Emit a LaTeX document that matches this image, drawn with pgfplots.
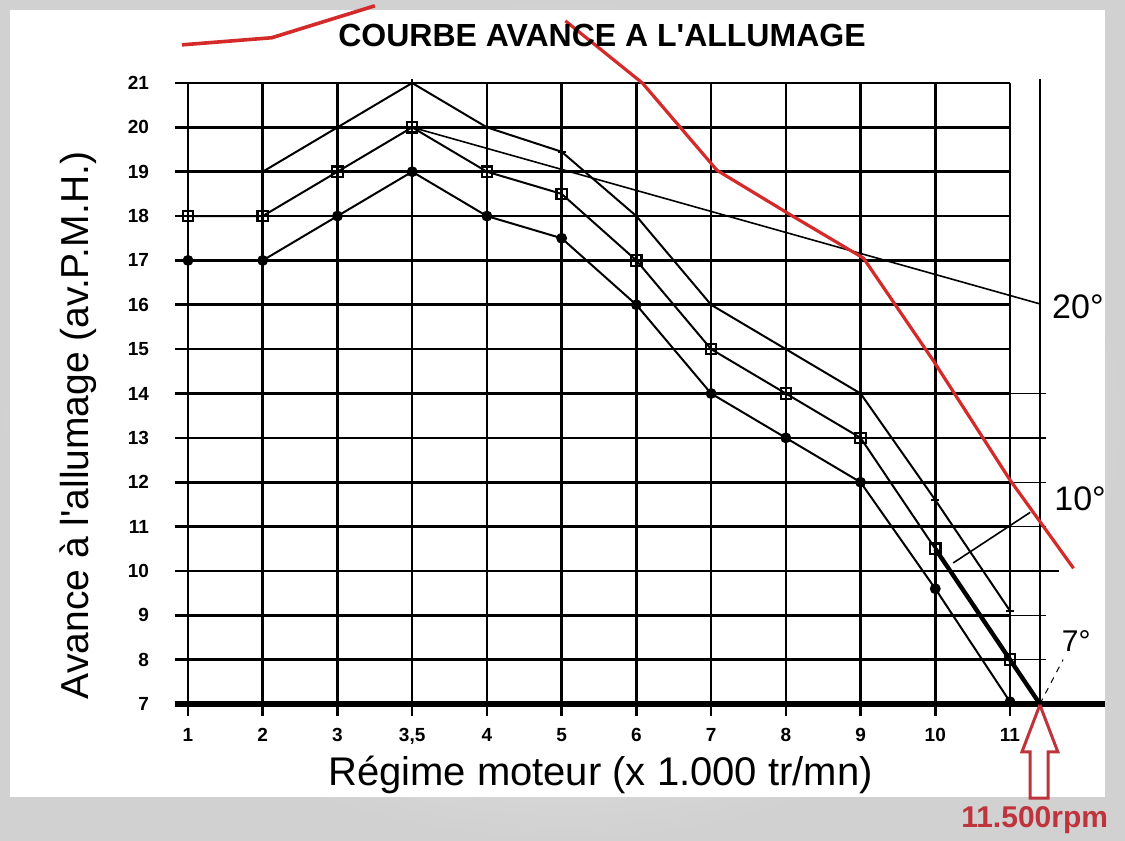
\documentclass[border=0pt]{standalone}
\usepackage{pgfplots}
\pgfplotsset{compat=1.18}
\usepackage{fontspec}
\setmainfont{Liberation Sans}[Ligatures=TeXOff]
\definecolor{annred}{HTML}{D42A2A}
\definecolor{rpmred}{HTML}{BE343C}
\begin{document}
\begin{tikzpicture}
\shade[inner color=gray!6, outer color=gray!36] (0,0) rectangle (562.5pt,420.5pt);
\fill[white] (5pt,22pt) rectangle (552.5pt,415.5pt);
\begin{axis}[
 at={(94pt,68.5pt)}, anchor=south west,
 scale only axis, width=411pt, height=310.5pt,
 xmin=0, xmax=11, ymin=7, ymax=21,
 clip=false,
 axis line style={draw=none},
 major tick length=0pt,
 xtick={0,...,11}, xticklabels={1,2,3,{3,5},4,5,6,7,8,9,10,11},
 ytick={7,...,21},
 grid=major, grid style={black, line width=1.3pt},
 tick label style={font=\fontsize{9.5}{11}\selectfont\bfseries},
 xticklabel style={yshift=-8.5pt},
 yticklabel style={xshift=-16pt},
 /pgf/number format/assume math mode=true,
]
% grid extensions
\pgfplotsinvokeforeach{8,...,21}{\draw[black, line width=1.3pt] (axis cs:-0.17,#1) -- (axis cs:0,#1);}
\pgfplotsinvokeforeach{0,...,11}{\draw[black, line width=1.3pt] (axis cs:#1,7) -- (axis cs:#1,6.72);}
\pgfplotsinvokeforeach{8,9,11,12,13,14}{\draw[black, line width=0.7pt] (axis cs:11,#1) -- (axis cs:11.48,#1);}
\draw[black, line width=0.7pt] (axis cs:11,10) -- (axis cs:11.65,10);
\draw[black, line width=0.8pt] (axis cs:11.4,7) -- (axis cs:11.4,21.1);
\draw[black, line width=2.6pt] (axis cs:-0.17,7) -- (axis cs:12.27,7);
% curves
\addplot[black, line width=1pt, mark=+, mark size=2pt] coordinates {(1,19)(3,21)(4,20)(5,19.45)(6,18)(7,16)(8,15)(9,14)(10,11.6)(11,9.1)};
\addplot[black, line width=1pt, mark=square, mark size=2.6pt, mark options={line width=1.1pt}] coordinates {(0,18)(1,18)(2,19)(3,20)(4,19)(5,18.5)(6,17)(7,15)(8,14)(9,13)(10,10.5)};
\addplot[black, line width=2.2pt, mark=square, mark size=2.6pt, mark options={line width=1pt}, mark indices={2}] coordinates {(10,10.5)(11,8)(11.4,7)};
\addplot[black, line width=1pt, mark=*, mark size=2.2pt] coordinates {(0,17)(1,17)(2,18)(3,19)(4,18)(5,17.5)(6,16)(7,14)(8,13)(9,12)(10,9.6)(11,7.05)};
% degree lines
\addplot[black, line width=0.8pt] coordinates {(3,20)(11.4,16.02)};
\addplot[black, line width=0.8pt] coordinates {(10.24,10.18)(11.27,11.32)};
\addplot[black, line width=0.5pt, dashed] coordinates {(11.4,7)(11.71,8)};
\node[anchor=west, font=\fontsize{17}{20}\selectfont] at (axis cs:11.47,15.96) {20°};
\node[anchor=west, font=\fontsize{17}{20}\selectfont] at (axis cs:11.5,11.62) {10°};
\node[anchor=west, font=\fontsize{15}{18}\selectfont] at (axis cs:11.6,8.42) {7°};
% red annotation lines
\addplot[annred, line width=1.6pt] coordinates {(5.05,22.4)(6.08,21.0)(7.08,19.03)(8.09,18.0)(9.04,17.05)(9.97,14.75)(11.0,12.05)(11.85,10.06)};
\addplot[annred, line width=1.8pt] coordinates {(-0.08,21.86)(1.12,22.02)(2.5,22.74)};
% arrow
\addplot[rpmred, line width=1.5pt] coordinates {(11.40,6.98)(11.64,5.92)(11.51,5.92)(11.51,4.88)(11.27,4.88)(11.27,5.92)(11.16,5.92)(11.40,6.98)};
\node[rpmred, font=\fontsize{15}{18}\selectfont\bfseries] at (axis cs:11.33,4.39) {11.500rpm};
% titles
\node[font=\fontsize{16}{19}\selectfont\bfseries] at (axis cs:5.54,22.07) {COURBE AVANCE A L'ALLUMAGE};
\node[font=\fontsize{20}{24}\selectfont] at (axis cs:5.52,5.40) {Régime moteur (x 1.000 tr/mn)};
\node[font=\fontsize{19.5}{23}\selectfont, rotate=90] at (axis cs:-1.47,13.28) {Avance à l'allumage (av.P.M.H.)};
\end{axis}
\pgfresetboundingbox
\useasboundingbox (0,0) rectangle (562.5pt,420.5pt);
\end{tikzpicture}
\end{document}
